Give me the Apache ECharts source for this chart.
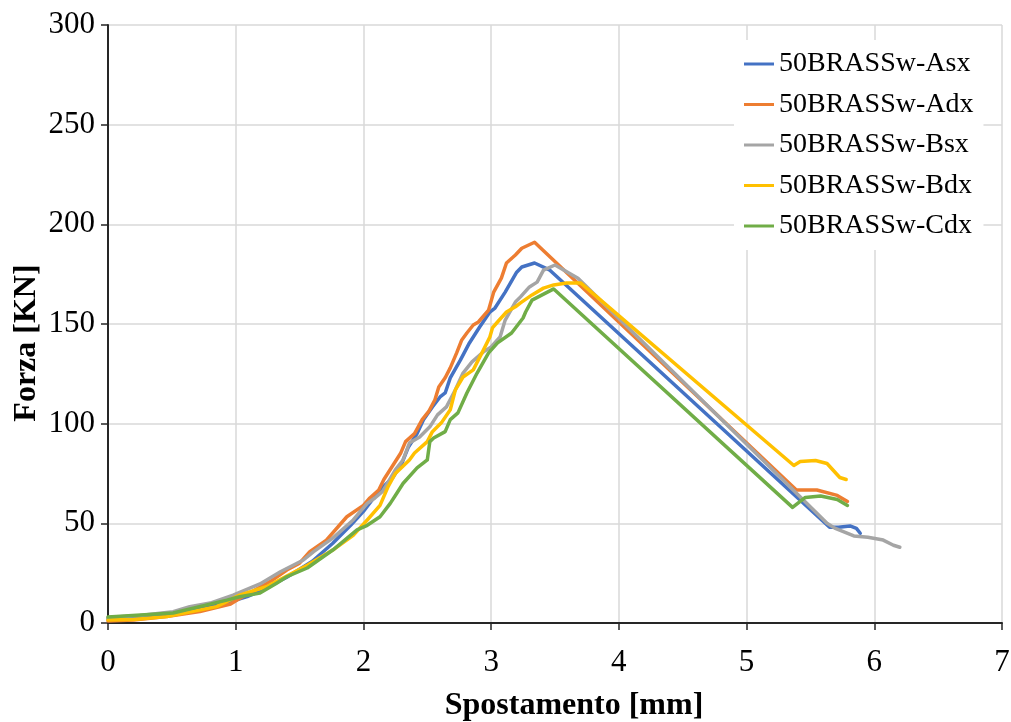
<!DOCTYPE html>
<html>
<head>
<meta charset="utf-8">
<script src="https://cdn.jsdelivr.net/npm/echarts@6/dist/echarts.min.js"></script>
<style>
  html, body { margin: 0; padding: 0; background: #fff; }
  #chart { width: 1011px; height: 722px; }
</style>
</head>
<body>
<div id="chart"></div>
<script>
// Load–displacement curves, [spostamento mm, forza KN]
const seriesNames = ['50BRASSw-Asx', '50BRASSw-Adx', '50BRASSw-Bsx', '50BRASSw-Bdx', '50BRASSw-Cdx'];

const asx = [[0,2],[0.5,4.5],[0.8,8],[1.0,11.5],[1.09,13.2],[1.21,16.6],[1.4,23],[1.6,31],[1.76,40],[1.9,49],[2.0,56],[2.08,62.7],[2.15,68],[2.23,73],[2.3,80],[2.35,88],[2.42,95],[2.47,102],[2.54,108.4],[2.6,113.4],[2.64,115.4],[2.68,123],[2.76,132],[2.83,140.5],[2.91,148.5],[2.99,156],[3.03,158],[3.11,166],[3.2,176],[3.24,178.6],[3.34,180.6],[3.46,177],[5.65,48],[5.72,48],[5.81,48.7],[5.86,47.5],[5.89,45]];

const adx = [[0,1],[0.2,1.5],[0.46,3.2],[0.72,5.7],[0.96,9.5],[1.05,13],[1.15,16.5],[1.29,21.6],[1.4,26.6],[1.5,30],[1.58,35.8],[1.71,41.6],[1.87,53.3],[2.0,59],[2.05,62.7],[2.12,66.7],[2.16,72],[2.21,77],[2.29,85],[2.33,91],[2.40,95],[2.46,102],[2.51,106],[2.56,112],[2.59,118.4],[2.64,123],[2.68,128],[2.73,135.5],[2.77,142],[2.81,145.5],[2.86,149.5],[2.90,151],[2.98,157],[3.02,166],[3.08,173],[3.12,180.6],[3.19,184.6],[3.24,188],[3.34,191],[5.39,66.7],[5.55,66.7],[5.71,64],[5.79,61]];

const bsx = [[0,2.8],[0.25,3.8],[0.51,5.7],[0.64,8.2],[0.8,10],[0.98,14],[1.19,19.6],[1.35,25.7],[1.53,31.6],[1.61,35.8],[1.76,42.6],[1.92,51.7],[2.03,60],[2.09,62.7],[2.15,66],[2.17,68.2],[2.25,76.8],[2.31,81.8],[2.36,90.3],[2.44,93.3],[2.52,98.4],[2.58,104.4],[2.65,108.4],[2.72,117],[2.78,125.4],[2.85,131],[2.94,136],[3.0,138.5],[3.07,143.5],[3.11,152],[3.19,161],[3.23,163.6],[3.30,168.6],[3.36,171],[3.41,177],[3.50,179.6],[3.68,173],[5.63,50],[5.69,47.6],[5.84,43.7],[5.95,43],[6.07,41.6],[6.15,39],[6.2,38]];

const bdx = [[0,1.5],[0.2,1.8],[0.46,3.2],[0.85,8.2],[1.03,14],[1.24,18.2],[1.56,29],[1.76,36.6],[1.92,44],[2.03,51.7],[2.13,59],[2.19,68],[2.25,75],[2.36,81.8],[2.40,85.3],[2.50,91],[2.54,96],[2.61,100.4],[2.68,107],[2.72,117],[2.78,123.4],[2.86,127],[2.94,137],[2.99,143.5],[3.01,148],[3.05,151],[3.12,156],[3.19,158.6],[3.23,160.6],[3.32,164.6],[3.41,168],[3.49,169.6],[3.59,170.6],[3.70,170.6],[5.37,79],[5.42,81],[5.54,81.5],[5.63,80],[5.73,73],[5.78,72]];

const cdx = [[0,3],[0.51,5],[0.93,11.5],[1.03,13.2],[1.19,15],[1.32,20],[1.4,23.2],[1.56,27.6],[1.76,36.6],[1.95,46.7],[2.03,49],[2.13,53.3],[2.21,60],[2.26,65],[2.31,70],[2.42,77.8],[2.50,81.8],[2.52,91],[2.55,92.8],[2.64,96],[2.68,102],[2.74,105.4],[2.81,115.4],[2.89,125.4],[2.98,135.5],[3.05,140.5],[3.16,145.5],[3.25,153],[3.27,156],[3.32,162],[3.49,167.6],[5.36,58],[5.46,63],[5.58,63.7],[5.71,62],[5.79,59]];

const seriesData = [asx, adx, bsx, bdx, cdx];
const seriesColors = ['#4472C4', '#ED7D31', '#A5A5A5', '#FFC000', '#70AD47'];

const serif = '"Liberation Serif", "Times New Roman", serif';

const chart = echarts.init(document.getElementById('chart'), null, { renderer: 'canvas' });

chart.setOption({
  animation: false,
  backgroundColor: '#ffffff',
  grid: { left: 108, right: 9, top: 25, bottom: 99, containLabel: false, outerBoundsMode: 'none' },
  legend: {
    orient: 'vertical',
    left: 734,
    top: 40,
    padding: 10,
    backgroundColor: '#ffffff',
    icon: 'rect',
    itemWidth: 30,
    itemHeight: 3,
    itemGap: 12.5,
    textStyle: { fontFamily: serif, fontSize: 28, color: '#000', lineHeight: 28 },
    data: seriesNames
  },
  xAxis: {
    type: 'value',
    min: 0, max: 7, interval: 1,
    name: 'Spostamento [mm]',
    nameLocation: 'middle',
    nameGap: 67,
    nameMoveOverlap: false,
    nameTextStyle: { fontFamily: serif, fontSize: 32, fontWeight: 'bold', color: '#000', padding: [0, 0, 0, 38] },
    axisLine: { show: true, onZero: false, lineStyle: { color: '#262626', width: 2 } },
    axisTick: { show: true, inside: false, length: 7, lineStyle: { color: '#262626', width: 1.5 } },
    axisLabel: { fontFamily: serif, fontSize: 31, color: '#000', margin: 24 },
    splitLine: { show: true, lineStyle: { color: '#d9d9d9', width: 1.5 } }
  },
  yAxis: {
    type: 'value',
    min: 0, max: 300, interval: 50,
    name: 'Forza [KN]',
    nameLocation: 'middle',
    nameGap: 65,
    nameMoveOverlap: false,
    nameRotate: 90,
    nameTextStyle: { fontFamily: serif, fontSize: 32, fontWeight: 'bold', color: '#000', padding: [0, 38, 0, 0] },
    axisLine: { show: true, onZero: false, lineStyle: { color: '#262626', width: 2 } },
    axisTick: { show: true, inside: false, length: 7, lineStyle: { color: '#262626', width: 1.5 } },
    axisLabel: { fontFamily: serif, fontSize: 31, color: '#000', margin: 13 },
    splitLine: { show: true, lineStyle: { color: '#d9d9d9', width: 1.5 } }
  },
  series: seriesNames.map((name, i) => ({
    name: name,
    type: 'line',
    data: seriesData[i],
    showSymbol: false,
    symbol: 'none',
    smooth: false,
    color: seriesColors[i],
    lineStyle: { color: seriesColors[i], width: 3.5, cap: 'round', join: 'round' }
  }))
});
</script>
</body>
</html>
